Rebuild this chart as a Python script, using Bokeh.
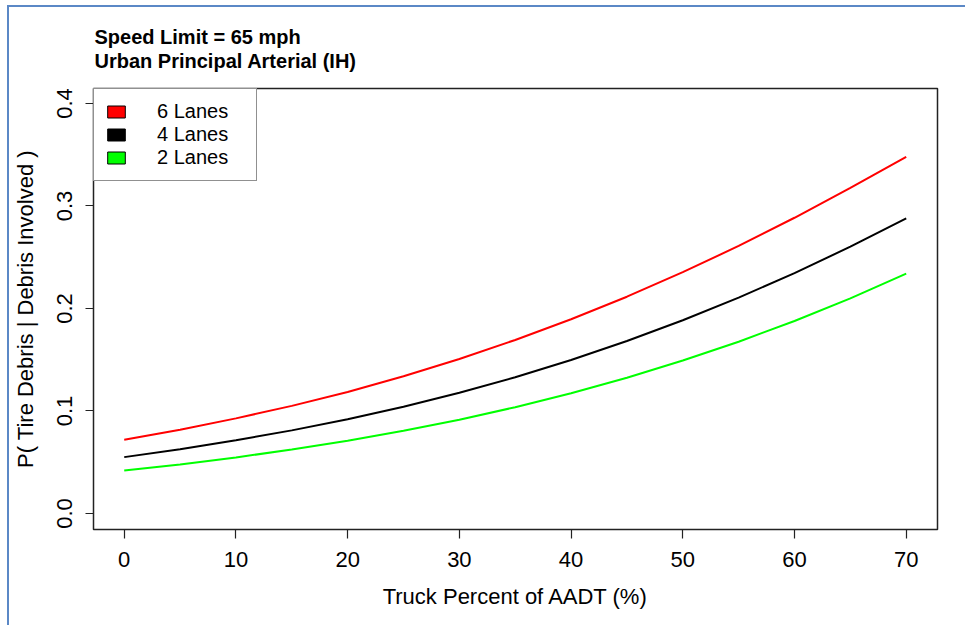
from bokeh.plotting import figure
from bokeh.models import (Range1d, FixedTicker, PrintfTickFormatter, Legend,
                          LegendItem, ColumnDataSource)
from bokeh.embed import file_html
from bokeh.resources import INLINE

# ---- data ----
truck_pct = [0, 5, 10, 15, 20, 25, 30, 35, 40, 45, 50, 55, 60, 65, 70]
p_6_lanes = [0.072, 0.0818, 0.0928, 0.1050, 0.1186, 0.1339, 0.1507, 0.1693,
             0.1895, 0.2115, 0.2354, 0.2610, 0.2885, 0.3177, 0.348]
p_4_lanes = [0.055, 0.0627, 0.0714, 0.0811, 0.0920, 0.1042, 0.1178, 0.1329,
             0.1498, 0.1683, 0.1885, 0.2106, 0.2345, 0.2603, 0.288]
p_2_lanes = [0.042, 0.0479, 0.0547, 0.0624, 0.0710, 0.0807, 0.0915, 0.1037,
             0.1173, 0.1325, 0.1492, 0.1676, 0.1878, 0.2099, 0.234]

x_ticks = [0, 10, 20, 30, 40, 50, 60, 70]
y_ticks = [0.0, 0.1, 0.2, 0.3, 0.4]
lane_labels = ["6 Lanes", "4 Lanes", "2 Lanes"]
lane_colors = ["#ff0000", "#000000", "#00ff00"]
series = [p_6_lanes, p_4_lanes, p_2_lanes]

title_line1 = "Speed Limit = 65 mph"
title_line2 = "Urban Principal Arterial (IH)"
x_title = "Truck Percent of AADT (%)"
y_title = "P( Tire Debris | Debris Involved )"

FONT = "Liberation Sans"
DARK = "#222222"

p = figure(width=958, height=620, output_backend="svg", toolbar_location=None,
           x_range=Range1d(-2.75, 72.8), y_range=Range1d(-0.0156, 0.4146),
           min_border_left=84, min_border_right=30, min_border_top=81,
           min_border_bottom=98)

p.styles = {"margin-left": "7px", "margin-top": "5px",
            "border-left": "2px solid #5b88c6", "border-top": "2px solid #5b88c6"}

p.xgrid.visible = False
p.ygrid.visible = False
p.outline_line_color = DARK
p.outline_line_width = 1.5
p.background_fill_color = "white"
p.border_fill_color = "white"

# two-line title
p.title.text = title_line1 + "\n" + title_line2
p.title.align = "left"
p.title.offset = 1
p.title.text_font = FONT
p.title.text_font_size = "20px"
p.title.text_font_style = "bold"
p.title.text_color = "black"
p.title.text_line_height = 1.13
p.title.standoff = 32

# axes
for ax in (p.xaxis[0], p.yaxis[0]):
    ax.axis_line_color = None
    ax.major_tick_line_color = DARK
    ax.major_tick_line_width = 1.2
    ax.major_tick_in = 0
    ax.minor_tick_line_color = None
    ax.major_label_text_font = FONT
    ax.major_label_text_font_size = "22px"
    ax.major_label_text_color = "black"
    ax.axis_label_text_font = FONT
    ax.axis_label_text_font_size = "22px"
    ax.axis_label_text_font_style = "normal"
    ax.axis_label_text_color = "black"

p.xaxis.ticker = FixedTicker(ticks=x_ticks)
p.xaxis.major_tick_out = 9
p.xaxis.major_label_standoff = 13
p.xaxis.axis_label = x_title
p.xaxis.axis_label_standoff = 14

p.yaxis.ticker = FixedTicker(ticks=y_ticks)
p.yaxis.formatter = PrintfTickFormatter(format="%.1f")
p.yaxis.major_tick_out = 8
p.yaxis.major_label_orientation = "vertical"
p.yaxis.major_label_standoff = 13
p.yaxis.axis_label = y_title
p.yaxis.axis_label_standoff = 17

# curves
for vals, col in zip(series, lane_colors):
    src = ColumnDataSource(dict(x=truck_pct, y=vals))
    p.line("x", "y", source=src, line_color=col, line_width=2)

# legend swatches (renderers with no drawable data, only used by the legend)
nan = float("nan")
items = []
for lab, col in zip(lane_labels, lane_colors):
    src = ColumnDataSource(dict(l=[nan], r=[nan], t=[nan], b=[nan]))
    r = p.quad(left="l", right="r", top="t", bottom="b", source=src,
               fill_color=col, line_color="black", line_width=1)
    items.append(LegendItem(label=lab, renderers=[r]))

legend = Legend(items=items, location="top_left", margin=0, padding=11,
                spacing=0, glyph_width=22, glyph_height=15, label_standoff=30,
                label_height=20, label_width=88,
                label_text_font=FONT, label_text_font_size="20px",
                label_text_color="black",
                border_line_color=DARK, border_line_width=1.5,
                background_fill_color="white", background_fill_alpha=1.0)
p.add_layout(legend)

open("out.html", "w").write(file_html(p, INLINE))
